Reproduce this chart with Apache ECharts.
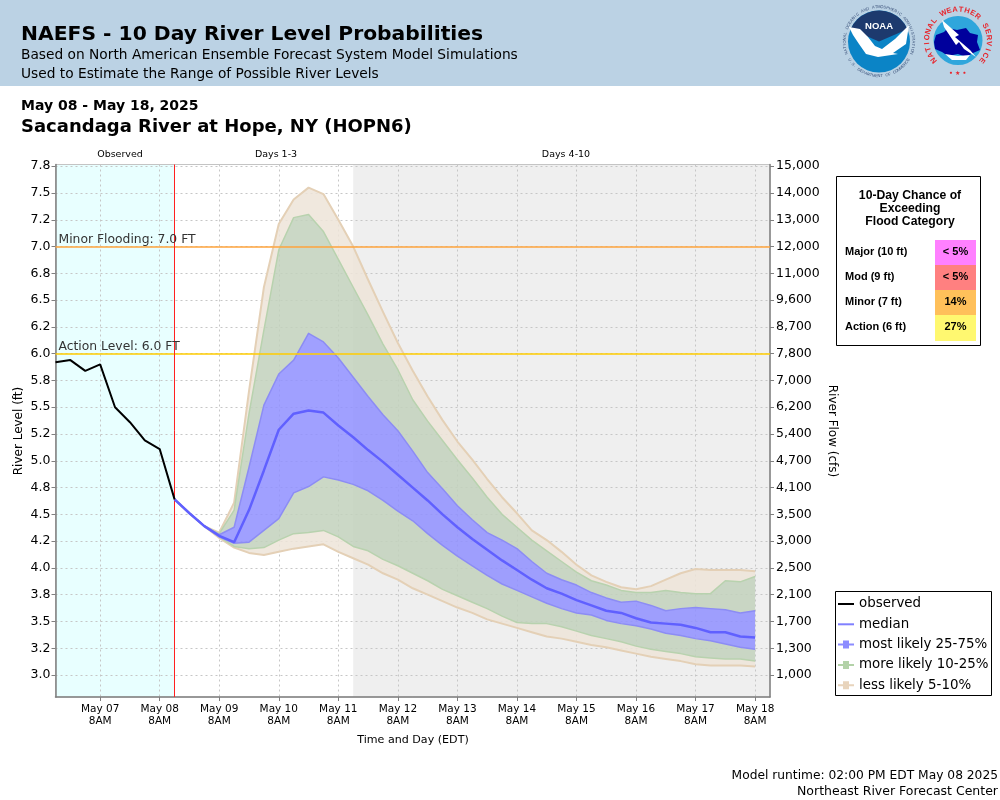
<!DOCTYPE html>
<html><head><meta charset="utf-8">
<style>html,body{margin:0;padding:0;background:#fff}#c{width:1000px;height:800px}</style>
<script src="https://cdn.jsdelivr.net/npm/echarts@6/dist/echarts.min.js"></script></head>
<body><div id="c"></div>
<script>
const tickDays=['May 07','May 08','May 09','May 10','May 11','May 12','May 13','May 14','May 15','May 16','May 17','May 18'];
const yTicks=[3,3.25,3.5,3.75,4,4.25,4.5,4.75,5,5.25,5.5,5.75,6,6.25,6.5,6.75,7,7.25,7.5,7.75];
const leftLabels=['3.0','3.2','3.5','3.8','4.0','4.2','4.5','4.8','5.0','5.2','5.5','5.8','6.0','6.2','6.5','6.8','7.0','7.2','7.5','7.8'];
const rightLabels=['1,000','1,300','1,700','2,100','2,500','3,000','3,500','4,100','4,700','5,400','6,200','7,000','7,800','8,700','9,600','11,000','12,000','13,000','14,000','15,000'];
const observed=[5.92,5.94,5.84,5.90,5.50,5.36,5.19,5.11,4.64];
const p95=[4.64,4.51,4.39,4.33,4.61,5.65,6.62,7.21,7.44,7.55,7.49,7.25,7.00,6.69,6.39,6.10,5.84,5.60,5.38,5.18,5.01,4.83,4.66,4.51,4.35,4.26,4.15,4.03,3.93,3.87,3.82,3.80,3.83,3.89,3.95,3.99,3.98,3.98,3.98,3.97];
const p90=[4.64,4.51,4.39,4.32,4.54,5.44,6.22,6.97,7.27,7.30,7.14,6.88,6.62,6.36,6.09,5.85,5.57,5.37,5.19,5.01,4.84,4.66,4.50,4.38,4.26,4.16,4.06,3.96,3.88,3.84,3.79,3.77,3.77,3.79,3.77,3.76,3.76,3.88,3.87,3.92];
const p75=[4.64,4.51,4.39,4.31,4.38,4.94,5.52,5.81,5.94,6.19,6.11,5.96,5.78,5.60,5.43,5.28,5.09,4.89,4.74,4.58,4.45,4.33,4.26,4.18,4.06,3.95,3.89,3.84,3.77,3.72,3.68,3.69,3.65,3.60,3.62,3.63,3.62,3.61,3.58,3.60];
const median=[4.64,4.51,4.39,4.30,4.24,4.54,4.91,5.29,5.44,5.47,5.45,5.33,5.22,5.10,4.99,4.87,4.75,4.63,4.50,4.38,4.27,4.17,4.07,3.98,3.89,3.81,3.76,3.70,3.65,3.60,3.58,3.53,3.49,3.48,3.47,3.44,3.40,3.40,3.36,3.35];
const p25=[4.64,4.51,4.39,4.29,4.23,4.24,4.35,4.46,4.70,4.76,4.85,4.82,4.78,4.72,4.63,4.53,4.44,4.32,4.21,4.11,4.02,3.93,3.85,3.79,3.73,3.67,3.62,3.58,3.56,3.51,3.48,3.46,3.43,3.39,3.37,3.34,3.32,3.29,3.26,3.24];
const p10=[4.64,4.51,4.39,4.29,4.20,4.18,4.19,4.26,4.32,4.33,4.35,4.29,4.20,4.16,4.08,4.02,3.95,3.88,3.80,3.74,3.68,3.62,3.55,3.49,3.48,3.48,3.45,3.41,3.37,3.34,3.31,3.27,3.24,3.22,3.20,3.17,3.16,3.15,3.15,3.13];
const p5=[4.64,4.51,4.39,4.28,4.19,4.14,4.12,4.15,4.18,4.20,4.22,4.15,4.09,4.03,3.95,3.89,3.81,3.75,3.69,3.63,3.58,3.52,3.48,3.44,3.40,3.36,3.34,3.31,3.28,3.26,3.23,3.20,3.17,3.15,3.13,3.10,3.09,3.09,3.09,3.08];
const floodRows=[['Major (10 ft)','< 5%'],['Mod (9 ft)','< 5%'],['Minor (7 ft)','14%'],['Action (6 ft)','27%']];
const floodColors=['#ff80ff','#ff8080','#ffc05a','#fff870'];

const SLOTS=49, FC=8, OBS_END=8, EXT=20;
const categories=[];
for(let i=0;i<SLOTS;i++) categories.push(i%4===3?tickDays[(i-3)/4]+'\n8AM':'t'+i);
const is8am=(i)=>i%4===3;
const obsData=categories.map((_,i)=>i<observed.length?observed[i]:null);
const medData=categories.map((_,i)=>i>=FC&&i-FC<median.length?median[i-FC]:null);
const yMin=2.795,yMax=7.766;

function band(name,pairs,fill,edge,edgeW,edges){
  return {name,type:'custom',coordinateSystem:'cartesian2d',xAxisIndex:0,yAxisIndex:0,z:3+band.n++,
    silent:true,clip:true,data:[[FC,pairs[0][0][0]]],itemStyle:{color:edge},
    renderItem:(params,api)=>{
      const children=[];
      pairs.forEach(([lo,hi])=>{
        const pts=[];
        lo.forEach((v,i)=>pts.push(api.coord([FC+i,v])));
        for(let i=hi.length-1;i>=0;i--) pts.push(api.coord([FC+i,hi[i]]));
        children.push({type:'polygon',shape:{points:pts},style:{fill,stroke:null}});
      });
      edges.forEach(arr=>{
        children.push({type:'polyline',shape:{points:arr.map((v,i)=>api.coord([FC+i,v]))},style:{fill:null,stroke:edge,lineWidth:edgeW,lineJoin:'round'}});
      });
      return {type:'group',children};
    }};
}
band.n=0;

const regions=[[0,OBS_END,'#e8ffff'],[EXT,SLOTS-1,'#efefef']];

const sans='"DejaVu Sans"', arial='"Liberation Sans"';
const T=(x,y,text,o={})=>({type:'text',x,y,silent:true,z:o.z||20,style:Object.assign({text,fill:'#000',font:`${o.w||'normal'} ${o.s||12}px ${o.f||sans}`,textAlign:o.a||'left',textVerticalAlign:'middle'},o.c?{fill:o.c}:{}),rotation:o.r||0});
function ring(text,cx,cy,r,startDeg,endDeg,size,color,w){
  const out=[],n=text.length;
  for(let i=0;i<n;i++){
    const deg=startDeg+(endDeg-startDeg)*(i+0.5)/n, a=deg*Math.PI/180;
    out.push({type:'text',silent:true,z:22,x:cx+r*Math.sin(a),y:cy-r*Math.cos(a),rotation:-a,
      style:{text:text[i],fill:color,font:`${w||'normal'} ${size}px ${arial}`,textAlign:'center',textVerticalAlign:'middle'}});
  }
  return out;
}
function ringBottom(text,cx,cy,r,startDeg,endDeg,size,color,w){
  const out=[],n=text.length;
  for(let i=0;i<n;i++){
    const deg=startDeg+(endDeg-startDeg)*(i+0.5)/n, a=deg*Math.PI/180;
    out.push({type:'text',silent:true,z:22,x:cx+r*Math.sin(a),y:cy+r*Math.cos(a),rotation:a,
      style:{text:text[i],fill:color,font:`${w||'normal'} ${size}px ${arial}`,textAlign:'center',textVerticalAlign:'middle'}});
  }
  return out;
}
const P=(pts,fill,z,smooth)=>({type:'polygon',silent:true,z,shape:{points:pts,smooth:smooth||0},style:{fill}});
const graphics=[
  {type:'rect',silent:true,z:-5,shape:{x:0,y:0,width:1000,height:86},style:{fill:'#bbd2e4'}},
  T(21,34.5,'NAEFS - 10 Day River Level Probabilities',{w:'bold',s:20.3}),
  T(21,55,'Based on North American Ensemble Forecast System Model Simulations',{s:13.75}),
  T(21,74,'Used to Estimate the Range of Possible River Levels',{s:13.75}),
  T(21,106,'May 08 - May 18, 2025',{w:'bold',s:14}),
  T(21,127.5,'Sacandaga River at Hope, NY (HOPN6)',{w:'bold',s:18}),
  T(120,154.5,'Observed',{s:9.5,a:'center'}),
  T(276,154.5,'Days 1-3',{s:9.5,a:'center'}),
  T(566,154.5,'Days 4-10',{s:9.5,a:'center'}),
  T(18.5,431,'River Level (ft)',{s:12,a:'center',r:Math.PI/2}),
  T(832,431,'River Flow (cfs)',{s:12,a:'center',r:-Math.PI/2}),
  T(413,740,'Time and Day (EDT)',{s:11.1,a:'center'}),
  T(998,775.5,'Model runtime: 02:00 PM EDT May 08 2025',{s:12.25,a:'right'}),
  T(998,791.5,'Northeast River Forecast Center',{s:12.5,a:'right'}),
  // flood table
  {type:'rect',silent:true,z:20,shape:{x:836.5,y:176.5,width:144,height:169},style:{fill:'#fff',stroke:'#000',lineWidth:1}},
  T(910,195.5,'10-Day Chance of',{f:arial,w:'bold',s:12.2,a:'center',z:21}),
  T(910,208.5,'Exceeding',{f:arial,w:'bold',s:12.2,a:'center',z:21}),
  T(910,221.5,'Flood Category',{f:arial,w:'bold',s:12.2,a:'center',z:21}),
  // legend box
  {type:'rect',silent:true,z:15,shape:{x:835.5,y:591.5,width:156,height:104},style:{fill:'#fff',stroke:'#000',lineWidth:1}},
  // NOAA logo
  {type:'circle',silent:true,z:21,shape:{cx:879,cy:41.5,r:31},style:{fill:'#0b84c6'}},
  {type:'sector',silent:true,z:21,shape:{cx:879,cy:41.5,r:31,r0:0,startAngle:-Math.PI*0.87,endAngle:-Math.PI*0.13},style:{fill:'#1d3a6e'}},
  P([[849,27],[860,29],[868,37],[875,46],[882,49],[895,39],[909,25],[906,44],[893,53],[898,54],[878,57],[866,54],[859,44],[853,35]],'#fff',22),
  T(879,26,'NOAA',{f:arial,w:'bold',s:9.5,a:'center',c:'#fff',z:23}),
  ...ring('NATIONAL OCEANIC AND ATMOSPHERIC ADMINISTRATION',879,41.5,34.5,-112,112,4,'#3a5078'),
  ...ringBottom('U.S. DEPARTMENT OF COMMERCE',879,41.5,34.5,-60,60,4,'#3a5078'),
  // NWS logo
  {type:'circle',silent:true,z:21,shape:{cx:958,cy:40.5,r:24.5},style:{fill:'#2fa6dc'}},
  P([[934,42],[936,35],[944,32],[948,28],[957,30],[966,28],[970,33],[978,35],[977,42],[980,50],[973,53],[966,57],[958,54],[948,56],[942,52],[935,49]],'#00009c',22),
  P([[942,20],[959,35],[955,37],[970,50],[976,57],[964,49],[959,42],[956,45],[944,27]],'#fff',23),
  P([[945,54],[958,56],[970,55],[966,60],[952,60]],'#fff',22),
  ...ring('NATIONAL WEATHER SERVICE',958,40.5,31,-135,135,7.5,'#e8252c','bold'),
  {type:'text',silent:true,z:22,x:949,y:70,style:{text:'• ★ •',fill:'#e8252c',font:'bold 6px '+sans}}
];
floodRows.forEach((r,i)=>{
  const y=240+i*25, h=i===3?26:25;
  graphics.push({type:'rect',silent:true,z:21,shape:{x:935,y,width:41,height:h},style:{fill:floodColors[i]}});
  graphics.push(T(845,y+11.5,r[0],{f:arial,w:'bold',s:11,z:22}));
  graphics.push(T(955.5,y+11.5,r[1],{f:arial,w:'bold',s:11,a:'center',z:22}));
});

const lineIcon='path://M0 0H16V2H0Z';
const boxIcon='path://M0 4H5V1H11V4H16V6H11V9H5V6H0Z';
const chart=echarts.init(document.getElementById('c'),null,{renderer:'canvas'});
chart.setOption({
  animation:false,backgroundColor:'#fff',
  grid:{left:55.5,top:164.5,width:714.5,height:532.5,show:true,borderColor:'#c4c4c4',borderWidth:1,backgroundColor:'transparent'},
  graphic:graphics,
  legend:{left:838,top:597,orient:'vertical',padding:0,itemGap:6.3,itemWidth:16,itemHeight:14,z:16,selectedMode:false,
    textStyle:{fontFamily:sans,fontSize:13.4,lineHeight:14,color:'#000'},
    data:[
      {name:'observed',icon:lineIcon,itemStyle:{color:'#000'}},
      {name:'median',icon:lineIcon,itemStyle:{color:'#8080ff'}},
      {name:'most likely 25-75%',icon:boxIcon,itemStyle:{color:'#8c8cff'}},
      {name:'more likely 10-25%',icon:boxIcon,itemStyle:{color:'#b3d2a8'}},
      {name:'less likely 5-10%',icon:boxIcon,itemStyle:{color:'#e8d4bc'}}
    ]},
  xAxis:{type:'category',data:categories,boundaryGap:false,
    axisLine:{show:true,lineStyle:{color:'#808080',width:1.5}},
    axisTick:{show:true,length:4,interval:(i)=>is8am(i),lineStyle:{color:'#808080'}},
    axisLabel:{interval:(i)=>is8am(i),fontFamily:sans,fontSize:10.5,color:'#000',lineHeight:12,margin:6},
    splitLine:{show:true,interval:(i)=>is8am(i),lineStyle:{color:'#c6c6c6',type:[2,3],width:1}}},
  yAxis:[
    {type:'value',min:yMin,max:yMax,position:'left',
     axisLine:{show:true,lineStyle:{color:'#808080',width:1.5}},axisTick:{show:true,length:4,customValues:yTicks,lineStyle:{color:'#808080'}},
     axisLabel:{fontFamily:sans,fontSize:12.5,color:'#000',margin:5,padding:[2,0,0,0],customValues:yTicks,
       formatter:v=>leftLabels[Math.round((v-3)/0.25)]||''},
     splitLine:{show:true,customValues:yTicks,lineStyle:{color:'#c6c6c6',type:[2,3],width:1}}},
    {type:'value',min:yMin,max:yMax,position:'right',
     axisLine:{show:true,lineStyle:{color:'#808080',width:1.5}},axisTick:{show:true,length:4,customValues:yTicks,lineStyle:{color:'#808080'}},
     axisLabel:{fontFamily:sans,fontSize:12.5,color:'#000',margin:6,padding:[2,0,0,0],customValues:yTicks,
       formatter:v=>rightLabels[Math.round((v-3)/0.25)]||''},
     splitLine:{show:false}}
  ],
  series:[
    {name:'bg',type:'custom',coordinateSystem:'cartesian2d',z:-1,silent:true,clip:true,data:regions.map(r=>[r[0],r[1]]),
     renderItem:(params,api)=>{
       const r=regions[params.dataIndex];
       const a=api.coord([r[0],yMax]), b=api.coord([r[1],yMin]);
       return {type:'rect',shape:{x:a[0],y:a[1],width:b[0]-a[0],height:b[1]-a[1]},style:{fill:r[2]}};
     }},
    band('less likely 5-10%',[[p5,p10],[p90,p95]],'rgba(237,228,216,0.85)','#e4d0b6',2,[p5,p95]),
    band('more likely 10-25%',[[p10,p25],[p75,p90]],'rgba(194,209,188,0.85)','#b8d2ae',1.5,[p10,p90]),
    band('most likely 25-75%',[[p25,p75]],'rgba(143,143,255,0.85)','#8c8cf4',1.5,[p25,p75]),
    {name:'median',type:'line',data:medData,showSymbol:false,symbol:'none',z:10,connectNulls:false,
     lineStyle:{color:'#6060ff',width:2.5},itemStyle:{color:'#8080ff'},silent:true},
    {name:'thresholds',type:'line',data:[],z:9,silent:true,
     markLine:{silent:true,symbol:'none',animation:false,z:9,precision:3,
       data:[
         {yAxis:7,lineStyle:{color:'#ffa53c',width:1.5,type:'solid',opacity:1},label:{show:true,position:'insideStartTop',formatter:'Minor Flooding: 7.0 FT',color:'#333',fontFamily:sans,fontSize:12.35,distance:[3,1]}},
         {yAxis:6,lineStyle:{color:'#ffcc00',width:1.5,type:'solid',opacity:1},label:{show:true,position:'insideStartTop',formatter:'Action Level: 6.0 FT',color:'#333',fontFamily:sans,fontSize:12.35,distance:[3,1]}},
         {xAxis:categories[OBS_END],lineStyle:{color:'#ff2020',width:1,type:'solid',opacity:1},label:{show:false}}
       ]}},
    {name:'observed',type:'line',data:obsData,showSymbol:false,symbol:'none',z:11,
     lineStyle:{color:'#000',width:2},itemStyle:{color:'#000'},silent:true}
  ]
});
</script></body></html>
